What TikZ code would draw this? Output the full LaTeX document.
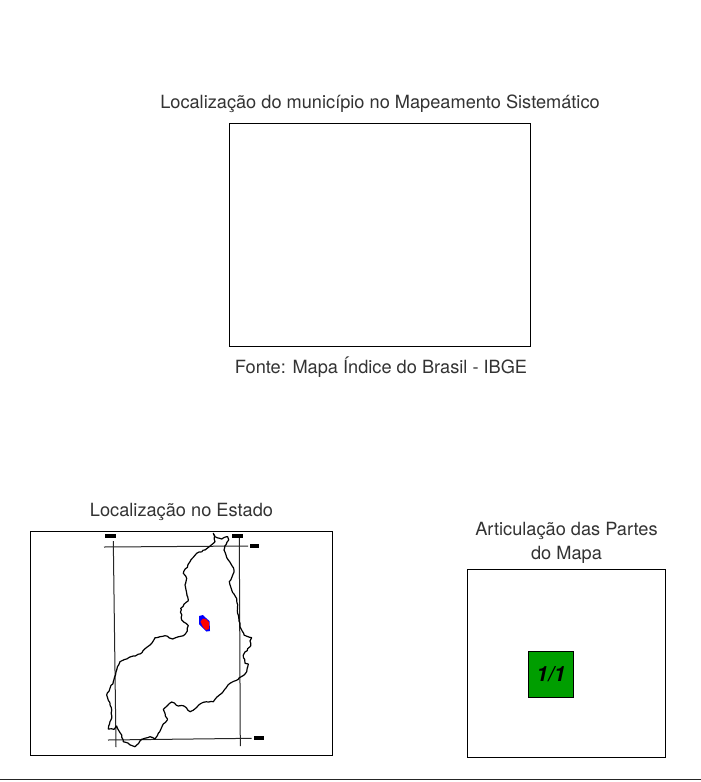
\documentclass[tikz,border=0pt]{standalone}
\usepackage{fontspec}
\usetikzlibrary{decorations.pathmorphing}
\setmainfont{TeX Gyre Heros}
\pgfmathsetseed{7}
\tikzset{
  frame/.style={draw=black,line width=0.9pt,fill=none},
  grat/.style={draw=black!85,line width=1pt},
  tick/.style={fill=black,draw=none,minimum width=#1,minimum height=4pt,inner sep=0pt},
  lab/.style={font=\fontsize{18.2}{24}\selectfont,text=black!80,align=center,inner sep=0pt,anchor=center},
  outline/.style={draw=black,line width=1.2pt,line join=round,decorate,decoration={random steps,segment length=2.5pt,amplitude=0.6pt}},
}
\begin{document}
\begin{tikzpicture}[x=1pt,y=-1pt]
\useasboundingbox (0,0) rectangle (701,782);
\fill[white] (0,0) rectangle (701,782);
\node[lab] (t1) at (380,103.5) {Localização do município no Mapeamento Sistemático};
\node[frame,minimum width=301pt,minimum height=223pt,inner sep=0pt] (mapbox) at (379.45,234.5) {};
\node[lab] (t2) at (381,367) {Fonte: Mapa Índice do Brasil - IBGE};
\node[lab] (t3) at (181.5,511.5) {Localização no Estado};
\node[frame,minimum width=302pt,minimum height=224pt,inner sep=0pt] (statebox) at (180.95,643) {};
\node[lab] (t4) at (566.5,543) {Articulação das Partes\\do Mapa};
\node[frame,minimum width=198pt,minimum height=188pt,inner sep=0pt] (partbox) at (565.95,663) {};
\node[draw=black,line width=0.9pt,fill=green!62!black,minimum width=45pt,minimum height=46pt,inner sep=0pt,font=\fontsize{21}{24}\selectfont\bfseries\itshape] (part) at (550.95,674) {1/1};
% graticule
\coordinate (v1a) at (113.3,541); \coordinate (v1b) at (116,747);
\coordinate (v2a) at (239.3,538); \coordinate (v2b) at (240.3,746);
\coordinate (h1a) at (104,547); \coordinate (h1b) at (248,546);
\coordinate (h2a) at (108,740); \coordinate (h2b) at (251.7,738.3);
\draw[grat] (v1a) -- (v1b);
\draw[grat] (v2a) -- (v2b);
\draw[grat] (h1a) -- (h1b);
\draw[grat] (h2a) -- (h2b);
\node[tick=11pt] (tk1) at (110.5,535.5) {};
\node[tick=11pt] (tk2) at (237.5,535.5) {};
\node[tick=9pt] (tk3) at (254.5,545.7) {};
\node[tick=10pt] (tk4) at (259,737.5) {};
% state outline
\draw[outline] (213.3,533.3) -- (215,536.7) -- (221.7,539) -- (227.7,536.7) -- (228.7,540) -- (225,545.7) -- (224,550) -- (226,555) -- (228.3,560) -- (231,564) -- (234,570) -- (232.7,575) -- (229.3,581.7) -- (231.7,590) -- (234,594) -- (236.7,600) -- (237.5,608) -- (238.3,615) -- (239,621) -- (240,626.7) -- (244,635) -- (251.7,637.7) -- (250,641) -- (250.7,643) -- (250,646.7) -- (243.3,655) -- (245,663.3) -- (248.3,664) -- (246.7,671.7) -- (238.3,679.3) -- (230,683.3) -- (226,688) -- (221.7,693.3) -- (217,697) -- (213.3,701.7) -- (203.3,702.3) -- (197,707) -- (190,711.7) -- (183.3,705.7) -- (178.3,706) -- (171.7,702) -- (163.3,709.3) -- (167.3,720) -- (162.7,725) -- (158.3,733.3) -- (155,739) -- (150,736.7) -- (141.7,739.3) -- (135,746.7) -- (123.3,741.7) -- (121.7,735) -- (116.7,726) -- (114,729.3) -- (108.3,729) -- (111.7,718) -- (111.7,710) -- (106.7,695) -- (113.3,681.7) -- (116,672) -- (120,661.7) -- (133.3,656) -- (140,654) -- (150,645) -- (151.7,643.3) -- (155,637.7) -- (165,635.7) -- (172.7,639) -- (183.3,635.7) -- (187.3,631) -- (188.3,625.7) -- (181.7,620) -- (180.7,608.3) -- (188.3,600) -- (186.5,592) -- (185,585) -- (186.7,578.3) -- (183.3,573.3) -- (190,561.7) -- (196.7,553.3) -- (205,550) -- (215,541.7) -- cycle;
% municipality
\fill[blue] (199,616) -- (203,615) -- (206,618) -- (209.5,621) -- (210,631) -- (206.5,631.5) -- (203,628) -- (199,624) -- cycle;
\fill[red] (200.5,621.5) -- (203,618.5) -- (206,619) -- (209,622) -- (209.2,629) -- (206,630) -- (203,627) -- cycle;
% footer
\coordinate (fl) at (0,779.3); \coordinate (fr) at (701,779.3);
\draw[draw=black!85,line width=1.4pt] (fl) -- (fr);
\end{tikzpicture}
\end{document}
